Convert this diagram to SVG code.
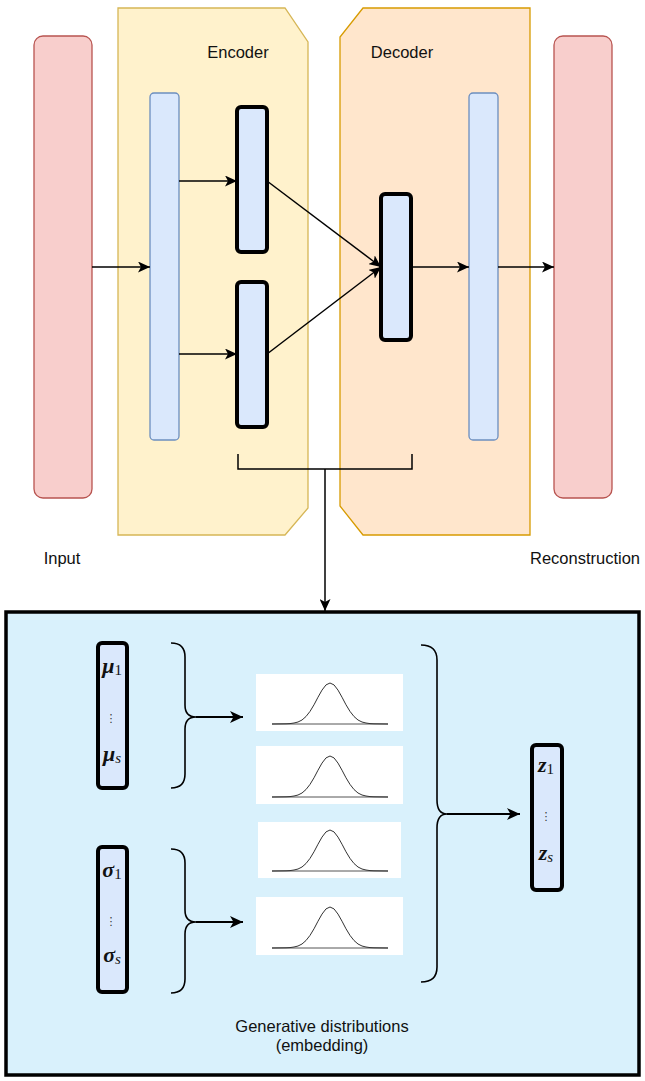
<svg xmlns="http://www.w3.org/2000/svg" width="645" height="1081" viewBox="0 0 645 1081">
<style>
.lbl{font-family:"Liberation Sans",Arial,sans-serif;font-size:16.5px;fill:#111;text-anchor:middle}
.io{fill:#f8cecc;stroke:#b85450;stroke-width:1.3}
.thin{fill:#dae8fc;stroke:#6c8ebf;stroke-width:1.3}
.thick{fill:#dae8fc;stroke:#000;stroke-width:4}
.conn{fill:none;stroke:#000;stroke-width:1.5}
.conn2{fill:none;stroke:#000;stroke-width:2}
.brace{fill:none;stroke:#000;stroke-width:1.6}
.math{font-family:"Liberation Serif","Times New Roman",serif;font-style:italic;font-weight:bold;font-size:22px;fill:#111;text-anchor:middle}
.sub{font-weight:normal;font-size:15px}
.dots{font-family:"DejaVu Sans",sans-serif;font-size:11px;fill:#333;text-anchor:middle}
.gbox{fill:#fff}
.bell{fill:none;stroke:#333;stroke-width:1;stroke-linejoin:round}
.base{stroke:#555;stroke-width:1}
</style>
<defs>
<marker id="arr" markerUnits="userSpaceOnUse" markerWidth="13" markerHeight="11" refX="12" refY="5.5" orient="auto">
<path d="M0,0 L12,5.5 L0,11 L3,5.5 z" fill="#000"/>
</marker>
<marker id="arr2" markerUnits="userSpaceOnUse" markerWidth="14" markerHeight="12" refX="13" refY="6" orient="auto">
<path d="M0,0 L13,6 L0,12 L3.5,6 z" fill="#000"/>
</marker>
<g id="gauss">
<line class="base" x1="-58" y1="0" x2="58" y2="0"/>
<path class="bell" d="M-58,0 L-44,-0.2 L-40,-0.4 L-36,-1 L-32,-2 L-28,-4 L-24,-7.5 L-20,-12.6 L-16,-19.2 L-12,-26.8 L-8,-33.9 L-4,-39.1 L0,-41 L4,-39.1 L8,-33.9 L12,-26.8 L16,-19.2 L20,-12.6 L24,-7.5 L28,-4 L32,-2 L36,-1 L40,-0.4 L44,-0.2 L58,0"/>
</g>
</defs>

<g id="input">
<rect class="io" x="34" y="36" width="58" height="462" rx="9"/>
<text class="lbl" x="62" y="564">Input</text>
</g>
<g id="reconstruction">
<rect class="io" x="554" y="36" width="58" height="462" rx="9"/>
<text class="lbl" x="585" y="564">Reconstruction</text>
</g>
<g id="encoder">
<path d="M118,8 L285,8 L308,42 L308,508 L285,535 L118,535 Z" fill="#fff2cc" stroke="#d6b656" stroke-width="1.3"/>
<text class="lbl" x="238" y="58">Encoder</text>
</g>
<g id="decoder">
<path d="M363,8 L530,8 L530,535 L363,535 L340,506 L340,37 Z" fill="#ffe6cc" stroke="#d79b00" stroke-width="1.3"/>
<text class="lbl" x="402" y="58">Decoder</text>
</g>
<g id="enc-layer"><rect class="thin" x="150" y="93" width="29" height="347" rx="4"/></g>
<g id="enc-mu"><rect class="thick" x="237" y="107" width="30" height="145" rx="4"/></g>
<g id="enc-sigma"><rect class="thick" x="237" y="282" width="30" height="145" rx="4"/></g>
<g id="dec-z"><rect class="thick" x="381" y="194" width="30" height="146" rx="4"/></g>
<g id="dec-layer"><rect class="thin" x="469" y="93" width="29" height="347" rx="4"/></g>

<g id="embedding">
<rect x="6" y="612" width="633" height="463" fill="#d9f1fc" stroke="#000" stroke-width="3.5"/>
<text class="lbl" x="322" y="1032">Generative distributions</text>
<text class="lbl" x="322" y="1051">(embedding)</text>
</g>
<g id="mu-vec">
<rect class="thick" x="98" y="643" width="29" height="145" rx="4"/>
<text class="math" x="112" y="673">μ<tspan class="sub" font-style="normal" dy="2">1</tspan></text>
<text class="dots" x="111" y="722">⋮</text>
<text class="math" x="112" y="761">μ<tspan class="sub" dy="2">s</tspan></text>
</g>
<g id="sigma-vec">
<rect class="thick" x="98" y="847" width="29" height="145" rx="4"/>
<text class="math" x="112" y="877">σ<tspan class="sub" font-style="normal" dy="2">1</tspan></text>
<text class="dots" x="111" y="925">⋮</text>
<text class="math" x="112" y="962">σ<tspan class="sub" dy="2">s</tspan></text>
</g>
<g id="z-vec">
<rect class="thick" x="532" y="745" width="30" height="145" rx="4"/>
<text class="math" x="546" y="772">z<tspan class="sub" font-style="normal" dy="2">1</tspan></text>
<text class="dots" x="546" y="820">⋮</text>
<text class="math" x="546" y="860">z<tspan class="sub" dy="2">s</tspan></text>
</g>
<g id="dist1"><rect class="gbox" x="256" y="674" width="147" height="57"/><use href="#gauss" x="330" y="724"/></g>
<g id="dist2"><rect class="gbox" x="256" y="746" width="147" height="58"/><use href="#gauss" x="330" y="797"/></g>
<g id="dist3"><rect class="gbox" x="258" y="822" width="143" height="56"/><use href="#gauss" x="330" y="871"/></g>
<g id="dist4"><rect class="gbox" x="256" y="897" width="147" height="58"/><use href="#gauss" x="330" y="948"/></g>

<g id="connectors">
<line class="conn" x1="92" y1="267" x2="150" y2="267" marker-end="url(#arr)"/>
<line class="conn" x1="179" y1="181" x2="237" y2="181" marker-end="url(#arr)"/>
<line class="conn" x1="179" y1="354" x2="237" y2="354" marker-end="url(#arr)"/>
<line class="conn" x1="267" y1="181" x2="381" y2="267" marker-end="url(#arr)"/>
<line class="conn" x1="267" y1="354" x2="381" y2="267" marker-end="url(#arr)"/>
<line class="conn" x1="411" y1="267" x2="469" y2="267" marker-end="url(#arr)"/>
<line class="conn" x1="498" y1="267" x2="554" y2="267" marker-end="url(#arr)"/>
<path class="conn" d="M238,454 L238,469 L412,469 L412,454" stroke-width="1.3"/>
<line class="conn" x1="325" y1="469" x2="325" y2="611" marker-end="url(#arr)"/>
<path class="brace" d="M171,643 Q185,643 185,657 L185,705 Q185,717 196,717 Q185,717 185,729 L185,774 Q185,788 171,788"/>
<path class="brace" d="M171,849 Q185,849 185,863 L185,910 Q185,922 196,922 Q185,922 185,934 L185,979 Q185,993 171,993"/>
<path class="brace" d="M421,645 Q437,645 437,660 L437,800 Q437,814 447,814 Q437,814 437,828 L437,967 Q437,982 421,982"/>
<line class="conn2" x1="196" y1="717" x2="243" y2="717" marker-end="url(#arr2)"/>
<line class="conn2" x1="196" y1="922" x2="243" y2="922" marker-end="url(#arr2)"/>
<line class="conn2" x1="447" y1="814" x2="520" y2="814" marker-end="url(#arr2)"/>
</g>
</svg>
